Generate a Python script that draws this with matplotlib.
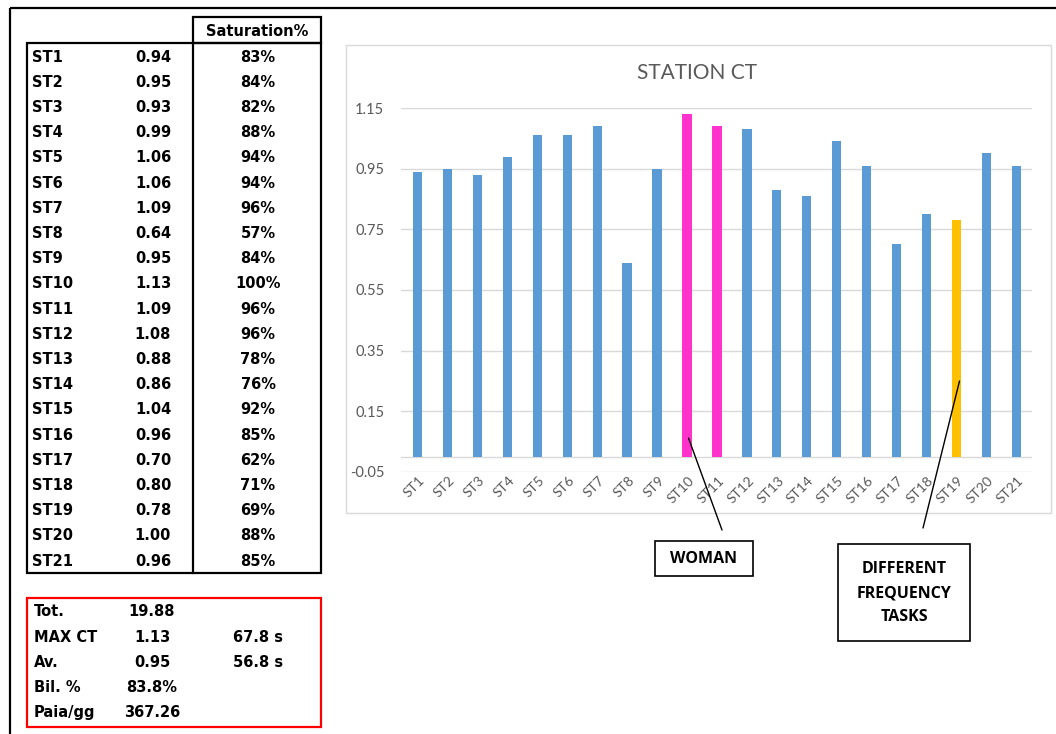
import matplotlib
matplotlib.use("Agg")
import matplotlib.pyplot as plt
from matplotlib.patches import Rectangle, ConnectionPatch
from matplotlib.transforms import ScaledTranslation

# ---- data -------------------------------------------------------------
stations = ["ST1", "ST2", "ST3", "ST4", "ST5", "ST6", "ST7", "ST8", "ST9", "ST10",
            "ST11", "ST12", "ST13", "ST14", "ST15", "ST16", "ST17", "ST18", "ST19",
            "ST20", "ST21"]
cycle_time = [0.94, 0.95, 0.93, 0.99, 1.06, 1.06, 1.09, 0.64, 0.95, 1.13,
              1.09, 1.08, 0.88, 0.86, 1.04, 0.96, 0.70, 0.80, 0.78, 1.00, 0.96]
saturation = [83, 84, 82, 88, 94, 94, 96, 57, 84, 100,
              96, 96, 78, 76, 92, 85, 62, 71, 69, 88, 85]
woman_stations = ["ST10", "ST11"]
freq_stations = ["ST19"]

summary_labels = ["Tot.", "MAX CT", "Av.", "Bil. %", "Paia/gg"]
summary_values = ["19.88", "1.13", "0.95", "83.8%", "367.26"]
summary_seconds = ["", "67.8 s", "56.8 s", "", ""]

y_ticks = [-0.05, 0.15, 0.35, 0.55, 0.75, 0.95, 1.15]

# ---- figure -----------------------------------------------------------
W, H = 1056, 734
fig = plt.figure(figsize=(W / 100, H / 100), dpi=100, facecolor="white")

# overlay in pixel coordinates for the table, frames and callouts
ov = fig.add_axes([0, 0, 1, 1], zorder=5)
ov.set_xlim(0, W)
ov.set_ylim(H, 0)
ov.axis("off")
ov.patch.set_alpha(0)

# outer frame (top and left edges)
ov.plot([10, W], [8, 8], color="black", lw=1.6, solid_capstyle="butt")
ov.plot([10, 10], [8, H], color="black", lw=1.6, solid_capstyle="butt")

# ---- left table ---------------------------------------------------------
tfont = dict(family="DejaVu Sans", fontsize=10.5, color="black", fontweight="bold")
ov.add_patch(Rectangle((193, 17), 128, 26, fill=False, ec="black", lw=1.6))
ov.text(257, 31, "Saturation%", ha="center", va="center", **tfont)
ov.add_patch(Rectangle((27, 43), 294, 530, fill=False, ec="black", lw=1.6))
ov.plot([193, 193], [43, 573], color="black", lw=1.6)

row_step = 25.2
for i, (st, ct, sat) in enumerate(zip(stations, cycle_time, saturation)):
    y = 57 + i * row_step
    ov.text(32, y, st, ha="left", va="center", **tfont)
    ov.text(153, y, f"{ct:.2f}", ha="center", va="center", **tfont)
    ov.text(258, y, f"{sat}%", ha="center", va="center", **tfont)

# summary box
ov.add_patch(Rectangle((27, 598), 294, 129, fill=False, ec="#ff0000", lw=1.6))
for i, (lab, val, sec) in enumerate(zip(summary_labels, summary_values, summary_seconds)):
    y = 612 + i * 25.2
    ov.text(34, y, lab, ha="left", va="center", **tfont)
    ov.text(152, y, val, ha="center", va="center", **tfont)
    if sec:
        ov.text(258, y, sec, ha="center", va="center", **tfont)

# ---- chart --------------------------------------------------------------
ov.add_patch(Rectangle((346, 45), 705, 468, fill=False, ec="#d9d9d9", lw=1.0))

left, right, top, bottom = 401, 1032, 108, 472
ax = fig.add_axes([left / W, 1 - bottom / H, (right - left) / W, (bottom - top) / H],
                  zorder=2)

colors = []
for st in stations:
    if st in woman_stations:
        colors.append("#ff33cc")
    elif st in freq_stations:
        colors.append("#ffc000")
    else:
        colors.append("#5b9bd5")

x = list(range(len(stations)))
ax.bar(x, cycle_time, width=0.31, color=colors, zorder=3)
ax.set_xlim(-0.55, len(stations) - 0.48)
ax.set_ylim(y_ticks[0], y_ticks[-1])
ax.set_yticks(y_ticks)
ax.set_yticklabels([f"{v:.2f}" for v in y_ticks])
ax.yaxis.grid(True, color="#d9d9d9", lw=1.0, zorder=0)
ax.axhline(0, color="#d9d9d9", lw=1.0, zorder=2)
for s in ax.spines.values():
    s.set_visible(False)
ax.tick_params(axis="both", length=0, colors="#595959")
ax.tick_params(axis="y", pad=12)
ax.tick_params(axis="x", pad=1)
ax.set_xticks(x)
ax.set_xticklabels(stations, rotation=45, ha="right", va="center",
                   rotation_mode="anchor")
for lbl in ax.get_yticklabels():
    lbl.set_family("Lato")
    lbl.set_fontsize(10.5)
offset = ScaledTranslation(5 / 100, -5 / 100, fig.dpi_scale_trans)
for lbl in ax.get_xticklabels():
    lbl.set_family("Lato")
    lbl.set_fontsize(10)
    lbl.set_transform(lbl.get_transform() + offset)

ov.text(697, 73, "STATION CT", ha="center", va="center", family="Lato",
        fontsize=15, color="#595959")

# ---- callouts -----------------------------------------------------------
cfont = dict(family="Open Sans", fontsize=11.5, fontweight="bold", color="black")

w_idx = stations.index("ST10")
con1 = ConnectionPatch(xyA=(w_idx + 0.05, 0.062), coordsA=ax.transData,
                       xyB=(722, 530), coordsB=ov.transData,
                       color="black", lw=1.0, zorder=10)
fig.add_artist(con1)
ov.add_patch(Rectangle((655, 541), 98, 35, fill=False, ec="black", lw=1.2))
ov.text(704, 559, "WOMAN", ha="center", va="center", **cfont)

f_idx = stations.index("ST19")
con2 = ConnectionPatch(xyA=(f_idx + 0.1, 0.25), coordsA=ax.transData,
                       xyB=(923, 528), coordsB=ov.transData,
                       color="black", lw=1.0, zorder=10)
fig.add_artist(con2)
ov.add_patch(Rectangle((838, 544), 132, 97, fill=False, ec="black", lw=1.2))
for j, line in enumerate(["DIFFERENT", "FREQUENCY", "TASKS"]):
    ov.text(904, 569 + j * 24, line, ha="center", va="center", **cfont)

fig.savefig("out.png", dpi=100, facecolor="white")
